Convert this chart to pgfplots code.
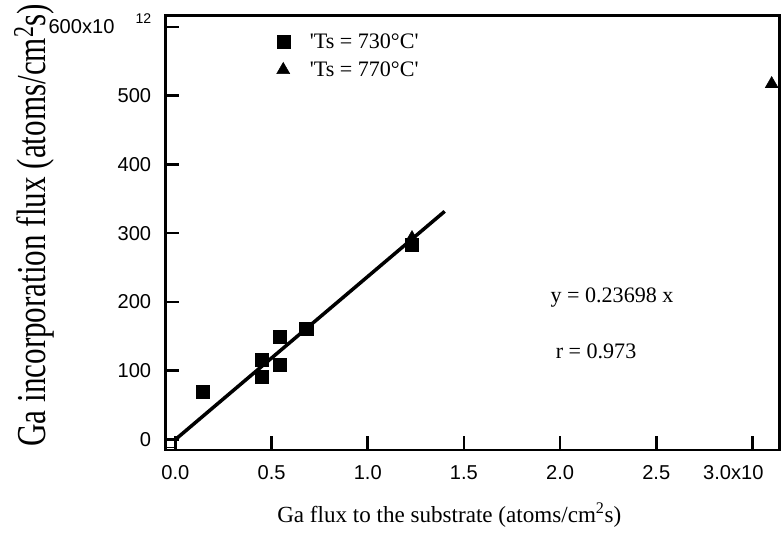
\documentclass[border=0pt]{standalone}
\usepackage{pgfplots}
\pgfplotsset{compat=1.18}
\usepackage{graphicx}
\usepackage{fontspec}
\setmainfont{Liberation Serif}
\newfontfamily\sansf{Liberation Sans}
\begin{document}
\begin{tikzpicture}
\begin{axis}[
  scale only axis, width=612pt, height=433pt,
  xmin=-0.052, xmax=3.142, ymin=-15.3, ymax=616.8,
  clip=false,
  axis line style={line width=2.5pt},
  xtick={0,0.5,1,1.5,2,2.5,3},
  xticklabels={0.0,0.5,1.0,1.5,2.0,2.5,\makebox[0pt]{\hspace{-38pt}3.0x10}},
  ytick={0,100,200,300,400,500,600},
  yticklabels={0,100,200,300,400,500,{600x10\hspace{21pt}\smash{\raisebox{10pt}{\fontsize{14}{14}\selectfont 12}}}},
  xtick pos=lower, ytick pos=left,
  tick align=inside,
  major tick length=14pt,
  every tick/.style={black, line width=2.5pt},
  minor tick num=0,
  ticklabel style={font=\sansf\fontsize{20}{20}\selectfont},
  yticklabel style={inner sep=0pt, xshift=-14pt},
  xticklabel style={inner sep=0pt, yshift=-15pt},
  xlabel={Ga flux to the substrate (atoms/cm\textsuperscript{2}s)},
  xlabel style={font=\fontsize{23}{23}\selectfont, at={(axis description cs:0.462,-0.150)}, anchor=center, inner sep=20pt},
  ylabel={\scalebox{1}[1.32]{Ga incorporation flux (atoms/cm\textsuperscript{2}s)}},
  ylabel style={font=\fontsize{31}{31}\selectfont, at={(axis description cs:-0.214,0.517)}, anchor=center, rotate=0, inner xsep=4pt, inner ysep=14pt},
  legend style={draw=none, fill=none, font=\fontsize{22}{22}\selectfont,
    at={(axis description cs:0.176,0.968)}, anchor=north west, row sep=8pt, column sep=18pt},
  legend cell align=left,
]
\addplot[only marks, mark=square*, mark size=6.5pt, black] coordinates {
  (0.14,70) (0.45,91) (0.45,116) (0.54,109) (0.54,150) (0.68,161) (1.23,283)
};
\addlegendentry{\textquotesingle Ts = 730°C\textquotesingle}
\addplot[only marks, mark=triangle*, mark size=7.5pt, black] coordinates {
  (1.23,293) (3.10,517)
};
\addlegendentry{\textquotesingle Ts = 770°C\textquotesingle}
\addplot[black, line width=3.5pt, forget plot] coordinates {(0.0,0) (1.40,331.8)};
\addplot[only marks, mark=square, mark size=4pt, mark options={fill=white, draw=black, line width=1pt}, forget plot] coordinates {(-0.023,-5.8)};
\node[font=\fontsize{22}{22}\selectfont, anchor=center] at (axis cs:2.27,206.6) {y = 0.23698 x};
\node[font=\fontsize{22}{22}\selectfont, anchor=center] at (axis cs:2.187,127.7) {r = 0.973};
\end{axis}
\end{tikzpicture}
\end{document}
